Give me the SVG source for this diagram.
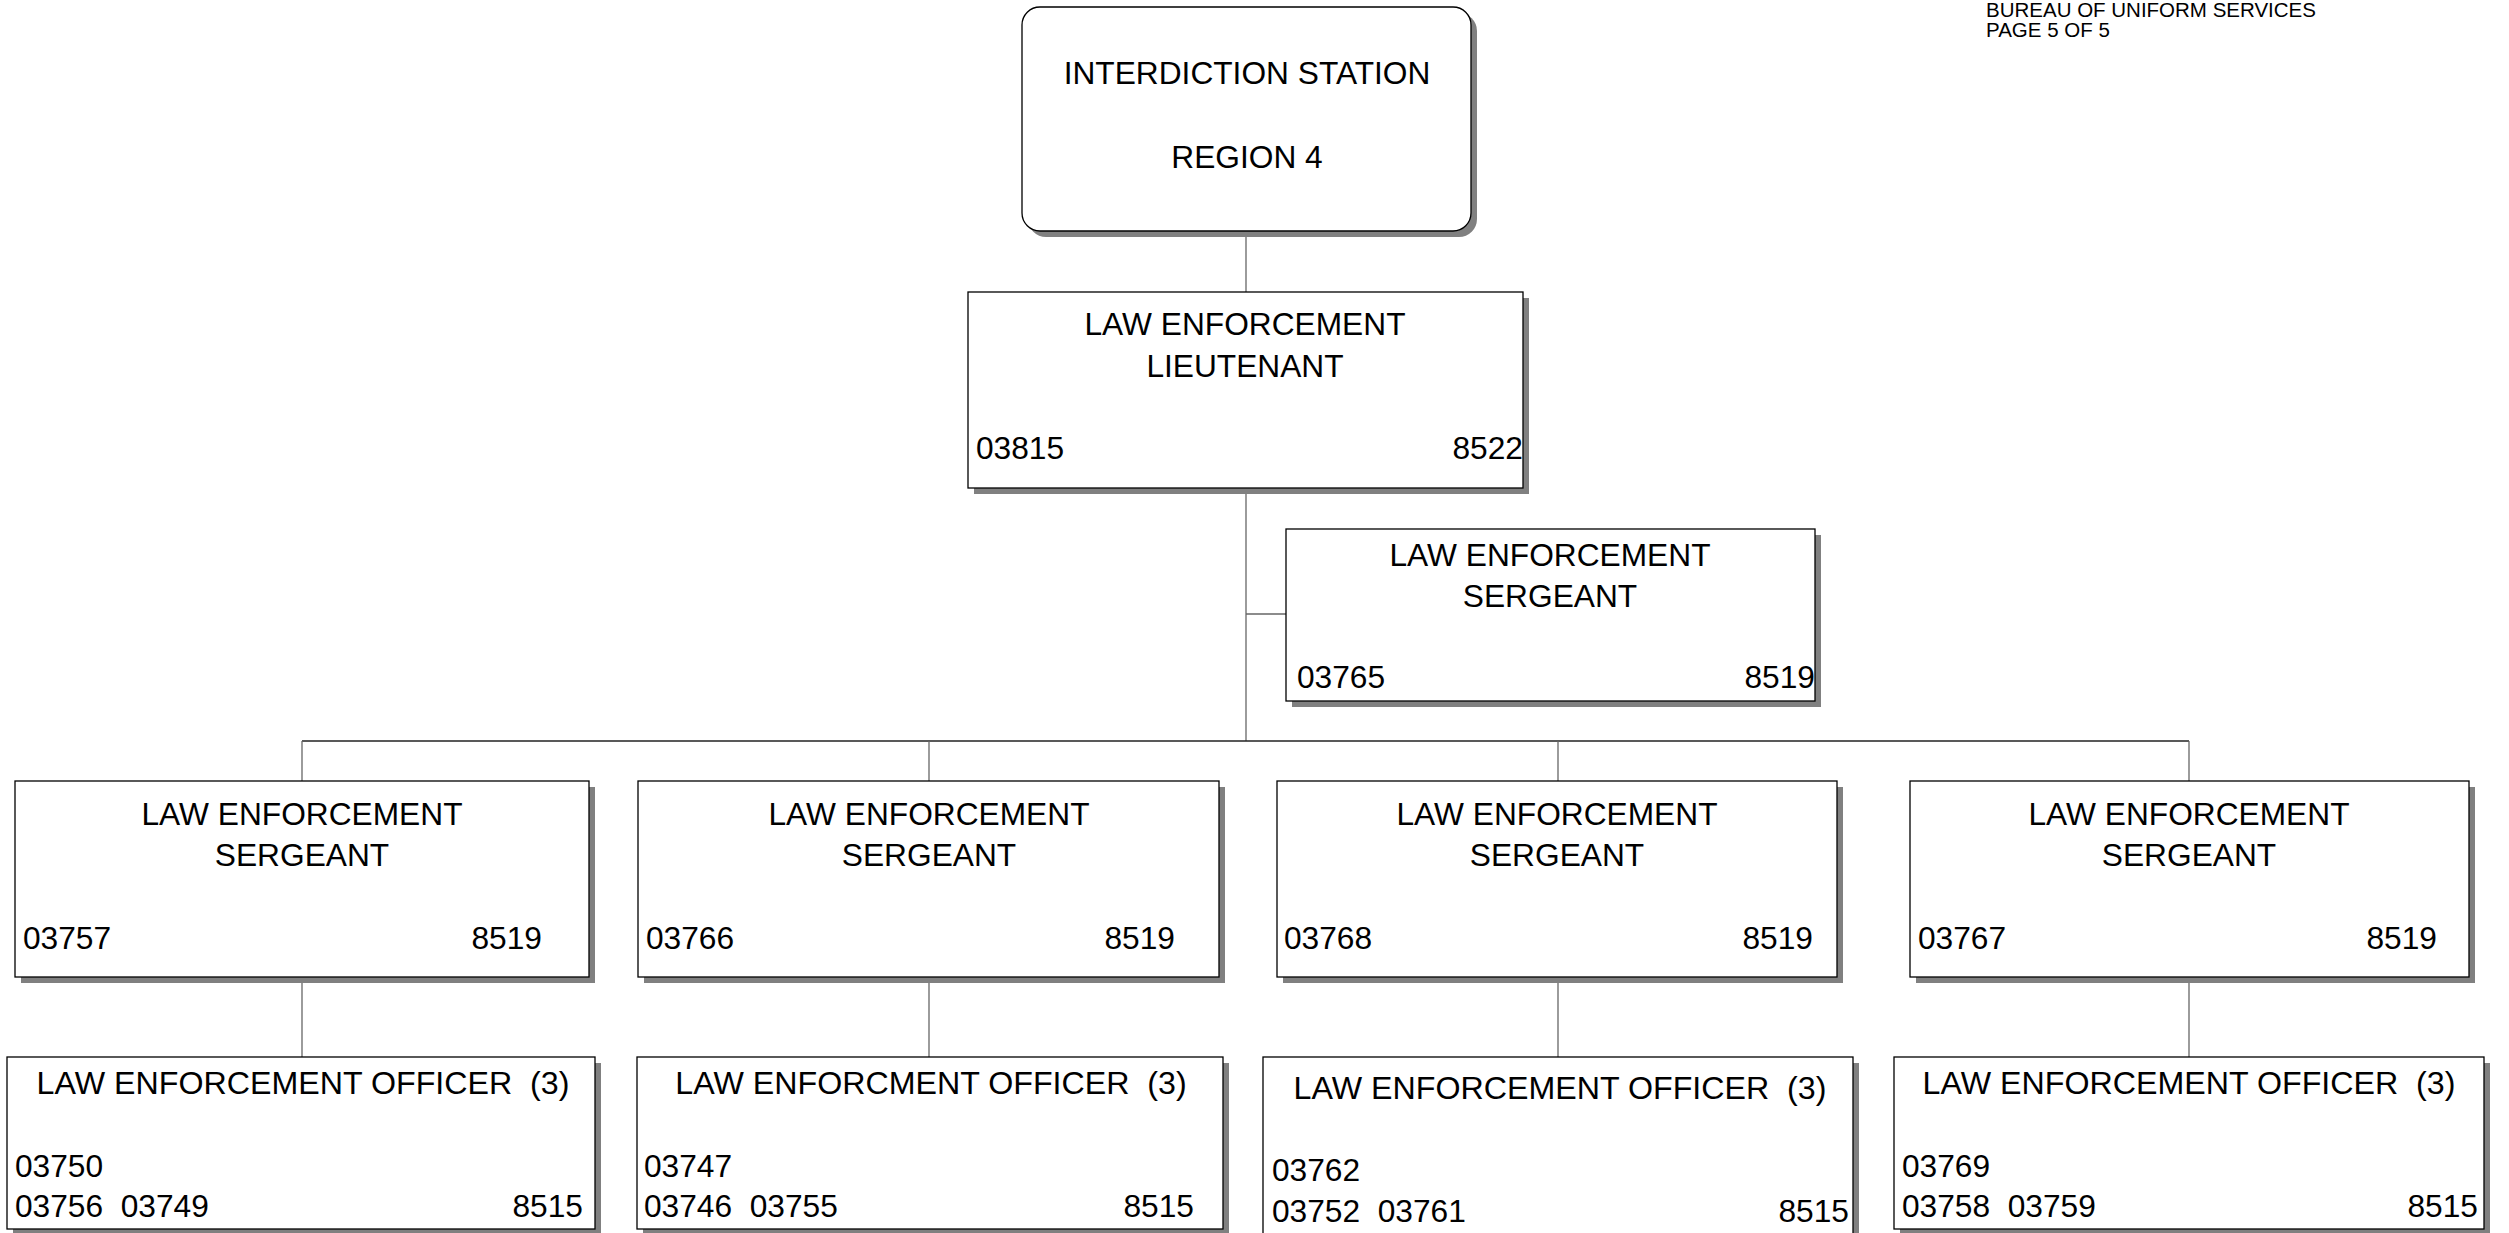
<svg xmlns="http://www.w3.org/2000/svg" width="2509" height="1233" viewBox="0 0 2509 1233">
<style>
  text { font-family: "Liberation Sans", Arial, sans-serif; font-size: 31.7px; fill: #000; white-space: pre; }
  .c { text-anchor: middle; }
  .e { text-anchor: end; }
  .t { font-size: 32.2px; }
  .hdr { font-size: 20.5px; }
  .box { fill: #fff; stroke: #000; stroke-width: 1.3; }
  .sh { fill: #808080; }
  .ln { stroke: #666; stroke-width: 1.3; fill: none; }
  .bus { stroke: #222; stroke-width: 1.3; fill: none; }
</style>
<rect x="0" y="0" width="2509" height="1233" fill="#fff"/>

<g id="header">
  <text class="hdr" x="1986" y="17">BUREAU OF UNIFORM SERVICES</text>
  <text class="hdr" x="1986" y="37">PAGE 5 OF 5</text>
</g>

<g id="connectors">
  <line class="ln" x1="1246" y1="231" x2="1246" y2="292"/>
  <line class="ln" x1="1246" y1="488" x2="1246" y2="741"/>
  <line class="ln" x1="1246" y1="614" x2="1286" y2="614"/>
  <line class="bus" x1="302" y1="741" x2="2189" y2="741"/>
  <line class="ln" x1="302" y1="741" x2="302" y2="781"/>
  <line class="ln" x1="929" y1="741" x2="929" y2="781"/>
  <line class="ln" x1="1558" y1="741" x2="1558" y2="781"/>
  <line class="ln" x1="2189" y1="741" x2="2189" y2="781"/>
  <line class="ln" x1="302" y1="977" x2="302" y2="1057"/>
  <line class="ln" x1="929" y1="977" x2="929" y2="1057"/>
  <line class="ln" x1="1558" y1="977" x2="1558" y2="1057"/>
  <line class="ln" x1="2189" y1="977" x2="2189" y2="1057"/>
</g>

<g id="station">
  <rect class="sh" x="1028" y="13" width="449" height="224" rx="18"/>
  <rect class="box" x="1022" y="7" width="449" height="224" rx="18"/>
  <text class="c" x="1247" y="84">INTERDICTION STATION</text>
  <text class="c" x="1247" y="168">REGION 4</text>
</g>

<g id="lieutenant">
  <rect class="sh" x="974" y="298" width="555" height="196"/>
  <rect class="box" x="968" y="292" width="555" height="196"/>
  <text class="c" x="1245" y="335">LAW ENFORCEMENT</text>
  <text class="c" x="1245" y="377">LIEUTENANT</text>
  <text x="976" y="459">03815</text>
  <text class="e" x="1523" y="459">8522</text>
</g>

<g id="sergeant-03765">
  <rect class="sh" x="1292" y="535" width="529" height="172"/>
  <rect class="box" x="1286" y="529" width="529" height="172"/>
  <text class="c" x="1550" y="566">LAW ENFORCEMENT</text>
  <text class="c" x="1550" y="607">SERGEANT</text>
  <text x="1297" y="688">03765</text>
  <text class="e" x="1815" y="688">8519</text>
</g>

<g id="sergeant-03757">
  <rect class="sh" x="21" y="787" width="574" height="196"/>
  <rect class="box" x="15" y="781" width="574" height="196"/>
  <text class="c" x="302" y="825">LAW ENFORCEMENT</text>
  <text class="c" x="302" y="866">SERGEANT</text>
  <text x="23" y="949">03757</text>
  <text class="e" x="542" y="949">8519</text>
</g>

<g id="sergeant-03766">
  <rect class="sh" x="644" y="787" width="581" height="196"/>
  <rect class="box" x="638" y="781" width="581" height="196"/>
  <text class="c" x="929" y="825">LAW ENFORCEMENT</text>
  <text class="c" x="929" y="866">SERGEANT</text>
  <text x="646" y="949">03766</text>
  <text class="e" x="1175" y="949">8519</text>
</g>

<g id="sergeant-03768">
  <rect class="sh" x="1283" y="787" width="560" height="196"/>
  <rect class="box" x="1277" y="781" width="560" height="196"/>
  <text class="c" x="1557" y="825">LAW ENFORCEMENT</text>
  <text class="c" x="1557" y="866">SERGEANT</text>
  <text x="1284" y="949">03768</text>
  <text class="e" x="1813" y="949">8519</text>
</g>

<g id="sergeant-03767">
  <rect class="sh" x="1916" y="787" width="559" height="196"/>
  <rect class="box" x="1910" y="781" width="559" height="196"/>
  <text class="c" x="2189" y="825">LAW ENFORCEMENT</text>
  <text class="c" x="2189" y="866">SERGEANT</text>
  <text x="1918" y="949">03767</text>
  <text class="e" x="2437" y="949">8519</text>
</g>

<g id="officers-1">
  <rect class="sh" x="13" y="1063" width="588" height="172"/>
  <rect class="box" x="7" y="1057" width="588" height="172"/>
  <text class="c t" x="303" y="1094">LAW ENFORCEMENT OFFICER  (3)</text>
  <text x="15" y="1177">03750</text>
  <text x="15" y="1217">03756  03749</text>
  <text class="e" x="583" y="1217">8515</text>
</g>

<g id="officers-2">
  <rect class="sh" x="643" y="1063" width="586" height="172"/>
  <rect class="box" x="637" y="1057" width="586" height="172"/>
  <text class="c t" x="931" y="1094">LAW ENFORCMENT OFFICER  (3)</text>
  <text x="644" y="1177">03747</text>
  <text x="644" y="1217">03746  03755</text>
  <text class="e" x="1194" y="1217">8515</text>
</g>

<g id="officers-3">
  <rect class="sh" x="1269" y="1063" width="590" height="185"/>
  <rect class="box" x="1263" y="1057" width="590" height="185"/>
  <text class="c t" x="1560" y="1099">LAW ENFORCEMENT OFFICER  (3)</text>
  <text x="1272" y="1181">03762</text>
  <text x="1272" y="1222">03752  03761</text>
  <text class="e" x="1849" y="1222">8515</text>
</g>

<g id="officers-4">
  <rect class="sh" x="1900" y="1063" width="590" height="172"/>
  <rect class="box" x="1894" y="1057" width="590" height="172"/>
  <text class="c t" x="2189" y="1094">LAW ENFORCEMENT OFFICER  (3)</text>
  <text x="1902" y="1177">03769</text>
  <text x="1902" y="1217">03758  03759</text>
  <text class="e" x="2478" y="1217">8515</text>
</g>
</svg>
